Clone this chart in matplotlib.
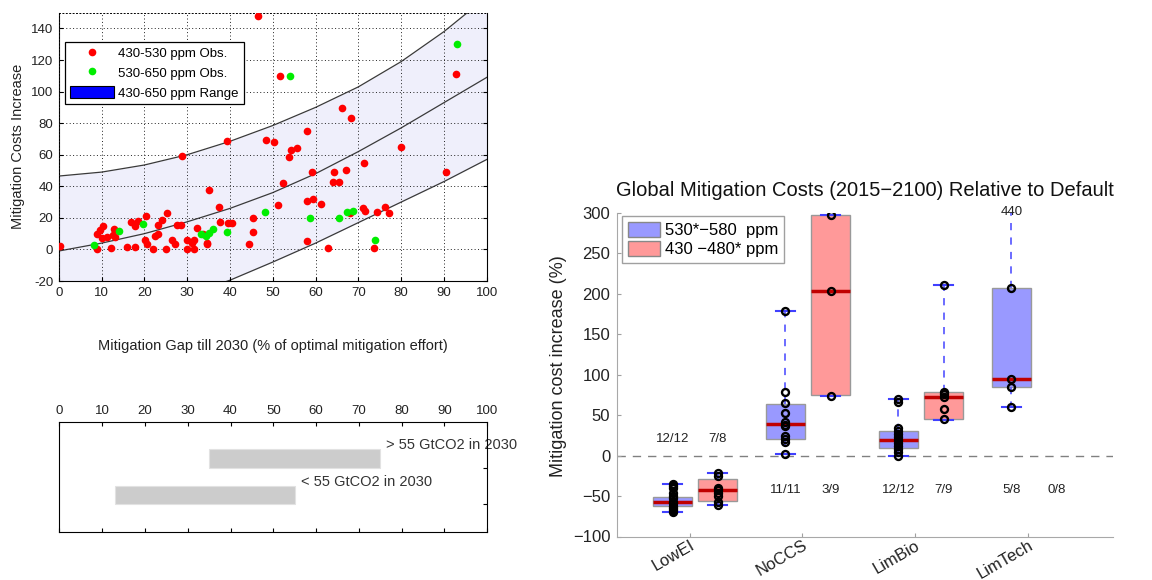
import matplotlib
matplotlib.use("Agg")
import matplotlib.pyplot as plt
from matplotlib.patches import Patch
from matplotlib.lines import Line2D

plt.rcParams['font.family'] = ['Liberation Sans', 'DejaVu Sans']

# ---------------- scatter: mitigation gap vs. cost increase ----------------
gap_430_530 = [0.3, 9.0, 9.0, 9.7, 10.4, 10.0, 11.2, 12.2, 12.8, 12.6, 15.9, 16.9,
               17.7, 17.8, 18.5, 20.4, 20.2, 20.7, 22.1, 22.5, 23.3, 23.3, 24.1,
               25.4, 25.1, 26.4, 27.1, 27.7, 28.5, 29.9, 29.9, 31.1, 31.6, 31.6,
               32.2, 33.8, 34.7, 37.5, 37.7, 39.5, 40.4, 44.5, 45.3, 45.5, 51.3,
               46.6, 51.7, 92.8, 66.1, 68.2, 58.1, 48.4, 50.4, 39.3, 80.0, 54.3,
               55.6, 53.7, 28.8, 71.3, 59.2, 64.2, 67.1, 90.5, 64.0, 65.6, 52.5,
               35.2, 58.1, 59.5, 61.2, 71.0, 71.6, 76.2, 77.2, 74.3, 68.1, 58.1,
               62.8, 73.7, 13.2, 34.6]
cost_430_530 = [1.9, 0.5, 10.0, 12.5, 15.0, 7.0, 8.0, 1.0, 13.0, 9.0, 1.5, 17.3,
                1.5, 15.0, 18.0, 21.5, 5.7, 3.6, 0.5, 8.4, 10.0, 15.2, 18.8,
                23.2, 0.5, 5.7, 3.6, 15.2, 15.8, 6.1, 0.5, 4.0, 0.4, 5.7,
                13.7, 9.9, 3.2, 26.8, 17.3, 16.5, 16.9, 3.6, 11.0, 19.8, 27.9,
                147.8, 110.0, 111.0, 89.8, 83.0, 75.0, 69.3, 68.2, 68.5, 65.0, 63.0,
                64.0, 58.3, 59.4, 54.5, 49.2, 49.2, 50.3, 49.2, 42.9, 42.5, 41.8,
                37.8, 31.0, 31.9, 28.7, 26.4, 24.3, 27.0, 22.9, 23.9, 22.9, 5.4,
                0.7, 1.2, 8.0, 3.9]
gap_530_650 = [8.3, 14.1, 19.6, 33.2, 34.5, 35.0, 36.0, 39.4, 48.2, 58.6, 65.5,
               67.3, 68.7, 74.0, 54.1, 93.0]
cost_530_650 = [2.6, 11.7, 16.4, 9.6, 8.5, 10.6, 12.7, 10.8, 23.6, 19.8, 20.0,
                24.0, 24.5, 6.0, 110.0, 130.0]

# range band (upper / central / lower curves) sampled along the gap axis
band_gap = [0, 10, 20, 30, 40, 50, 60, 70, 80, 90, 100]
band_upper = [46.5, 49.0, 53.5, 60.0, 68.5, 78.5, 90.0, 103.0, 119.0, 138.0, 160.0]
band_mid = [-1.0, 4.0, 10.0, 17.5, 26.0, 36.0, 48.0, 62.0, 77.0, 93.0, 109.0]
band_lower = [-50.0, -44.0, -37.0, -29.0, -19.5, -8.0, 4.0, 17.0, 30.0, 43.0, 57.0]

gap_ticks = list(range(0, 101, 10))
cost_ticks = list(range(-20, 141, 20))

# ---------------- emission ranges in 2030 ----------------
range_start = [35, 13]
range_end = [75, 55]
range_row = [3.5, 1.5]
range_labels = ["> 55 GtCO2 in 2030", "< 55 GtCO2 in 2030"]

# ---------------- box plots: cost increase by scenario ----------------
scenarios = ["LowEI", "NoCCS", "LimBio", "LimTech"]
# 530*-580 ppm
hi_q1 = [-62, 21, 9.5, 84.5]
hi_med = [-57, 39.5, 19, 94.5]
hi_q3 = [-51, 64, 30.5, 207]
hi_whislo = [-70, 2.5, -0.7, 60]
hi_whishi = [-35, 179, 70, 440]
hi_points = [
    [-35, -38, -40, -46, -50, -53, -57, -59, -62, -65, -67, -70],
    [179, 79, 65, 52, 41, 38, 36, 24, 20, 17, 2.5],
    [70, 66, 34, 30, 27, 23, 19, 16, 12, 8, 4, -0.7],
    [440, 207, 95, 85, 60],
]
hi_counts = ["12/12", "11/11", "12/12", "5/8"]
# 430-480* ppm
lo_q1 = [-56.5, 75, 45.5, None]
lo_med = [-43, 203, 72, None]
lo_q3 = [-29, 297, 78.5, None]
lo_whislo = [-61, 74, 44.5, None]
lo_whishi = [-22, 297, 211, None]
lo_points = [
    [-22, -25, -40, -43, -46, -50, -57, -61],
    [297, 203, 74],
    [211, 79, 76, 72, 57, 45],
    [],
]
lo_counts = ["7/8", "3/9", "7/9", "0/8"]
count_y = [20, -42, -42, -42]
outlier_note = "440"

fig = plt.figure(figsize=(11.52, 5.8), dpi=100)

# ---- top-left scatter ----
ax1 = fig.add_axes([0.0510, 0.5155, 0.3715, 0.4626])
ax1.set_xlim(0, 100)
ax1.set_ylim(-20, 150)
ax1.fill_between(band_gap, band_lower, band_upper, color='#efeffb', lw=0, zorder=0)
for curve in (band_upper, band_mid, band_lower):
    ax1.plot(band_gap, curve, color='#3a3a3a', lw=0.9, zorder=1)
ax1.plot(gap_430_530, cost_430_530, 'o', color='#ff0000', ms=5.5, mew=0, zorder=3)
ax1.plot(gap_530_650, cost_530_650, 'o', color='#00ee00', ms=5.5, mew=0, zorder=4)
ax1.set_axisbelow(False)
ax1.grid(True, linestyle=(0, (1, 2.5)), color='#222222', lw=0.7, zorder=2)
ax1.set_xticks(gap_ticks)
ax1.set_xticklabels([str(v) for v in gap_ticks])
ax1.set_yticks(cost_ticks)
ax1.set_yticklabels([str(v) for v in cost_ticks])
ax1.tick_params(direction='in', length=3, right=True, top=False, labelsize=9.5,
                labelcolor='#222222', pad=4)
ax1.spines['top'].set_linestyle((0, (1, 2.5)))
ax1.spines['top'].set_linewidth(0.7)
ax1.set_xlabel("Mitigation Gap till 2030 (% of optimal mitigation effort)",
               fontsize=10.5, color='#222222')
ax1.xaxis.set_label_coords(0.5, -0.215)
ax1.set_ylabel("Mitigation Costs Increase", fontsize=10.5, color='#222222')
ax1.yaxis.set_label_coords(-0.079, 0.5)
handles = [
    Line2D([], [], marker='o', ls='none', color='#ff0000', ms=5.5, mew=0),
    Line2D([], [], marker='o', ls='none', color='#00ee00', ms=5.5, mew=0),
    Patch(facecolor='#0000ff', edgecolor='black', lw=0.8),
]
leg1 = ax1.legend(handles, ["430-530 ppm Obs.", "530-650 ppm Obs.", "430-650 ppm Range"],
                  loc='upper left', bbox_to_anchor=(0.0147, 0.892), borderaxespad=0,
                  fontsize=9.5, handlelength=3.35, handleheight=1.1, handletextpad=0.35,
                  labelspacing=0.45, borderpad=0.35, fancybox=False, framealpha=1,
                  edgecolor='black')
leg1.get_frame().set_linewidth(0.9)

# ---- bottom-left emission ranges ----
ax2 = fig.add_axes([0.0515, 0.0828, 0.3715, 0.1902])
ax2.set_xlim(0, 100)
ax2.set_ylim(0, 6)
widths = [e - s for s, e in zip(range_start, range_end)]
ax2.barh(range_row, widths, left=range_start, height=1.0, align='edge',
         color='#cccccc', edgecolor='#e2e2e2', lw=0.8)
for s, e, r, lab in zip(range_start, range_end, range_row, range_labels):
    ax2.text(e + 1.4, r + 1.23, lab, fontsize=10.5, color='#333333',
             va='center', ha='left', clip_on=False, zorder=1)
ax2.set_xticks(gap_ticks)
ax2.set_xticklabels([str(v) for v in gap_ticks])
ax2.tick_params(axis='x', top=True, bottom=True, labeltop=True, labelbottom=False,
                direction='in', length=3, labelsize=9.5, labelcolor='#222222', pad=3)
ax2.yaxis.tick_right()
ax2.set_yticks(range_row)
ax2.tick_params(axis='y', direction='in', length=3, labelright=False)
for sp in ax2.spines.values():
    sp.set_zorder(5)

# ---- right: box plots ----
ax3 = fig.add_axes([0.5358, 0.075, 0.4303, 0.5583])
ax3.set_xlim(0.51, 4.9)
ax3.set_ylim(-100, 300)
ax3.axhline(0, color='#808080', lw=1, dashes=(6, 5), zorder=1)

box_w = 0.35
common = dict(widths=box_w, patch_artist=True, showfliers=False, manage_ticks=False,
              whiskerprops=dict(color='#6060ff', lw=1.3, dashes=(4, 4)),
              capprops=dict(color='#4040ff', lw=1.5),
              medianprops=dict(color='#c00000', lw=2.5),
              capwidths=0.17)
for i, name in enumerate(scenarios):
    g = i + 1
    groups = [
        (g, hi_q1[i], hi_med[i], hi_q3[i], hi_whislo[i], hi_whishi[i], hi_points[i], '#9999ff'),
        (g + 0.4, lo_q1[i], lo_med[i], lo_q3[i], lo_whislo[i], lo_whishi[i], lo_points[i], '#ff9999'),
    ]
    for pos, q1, med, q3, wlo, whi, pts, face in groups:
        if med is None:
            continue
        stats = [dict(med=med, q1=q1, q3=q3, whislo=wlo, whishi=whi, fliers=[])]
        ax3.bxp(stats, positions=[pos],
                boxprops=dict(facecolor=face, edgecolor='#999999', lw=1), **common)
        ax3.plot([pos] * len(pts), pts, 'o', mfc='none', mec='black', mew=1.7, ms=5,
                 zorder=6)
    ax3.text(g, count_y[i], hi_counts[i], ha='center', va='center', fontsize=9.5,
             color='#222222')
    ax3.text(g + 0.4, count_y[i], lo_counts[i], ha='center', va='center', fontsize=9.5,
             color='#222222')

ax3.text(4, 301, outlier_note, ha='center', va='center', fontsize=9.5,
         color='#222222', clip_on=False)

ax3.set_xticks([g + 1.15 for g in range(len(scenarios))])
ax3.set_xticklabels(scenarios, rotation=30, ha='right', rotation_mode='anchor',
                    fontsize=11)
ax3.set_yticks(list(range(-100, 301, 50)))
ax3.tick_params(direction='in', length=3, color='#a0a0a0', labelsize=12,
                labelcolor='#222222', pad=5)
ax3.tick_params(axis='x', pad=1)
for side in ('top', 'right'):
    ax3.spines[side].set_visible(False)
for side in ('left', 'bottom'):
    ax3.spines[side].set_color('#a8a8a8')
ax3.set_title("Global Mitigation Costs (2015\u22122100) Relative to Default",
              fontsize=14.5, pad=12, color='#111111')
ax3.set_ylabel("Mitigation cost increase (%)", fontsize=13, color='#222222')
ax3.yaxis.set_label_coords(-0.1015, 0.525)
leg3 = ax3.legend([Patch(facecolor='#9999ff', edgecolor='#888888'),
                   Patch(facecolor='#ff9999', edgecolor='#888888')],
                  ["530*\u2212580  ppm", "430 \u2212480* ppm"],
                  loc='upper left', bbox_to_anchor=(0.009, 0.99), borderaxespad=0,
                  fontsize=12, handlelength=1.95, handleheight=1.0, handletextpad=0.3,
                  labelspacing=0.2, borderpad=0.35, fancybox=False, framealpha=1,
                  edgecolor='#a0a0a0')

fig.savefig("out.png", dpi=100, facecolor='white')
